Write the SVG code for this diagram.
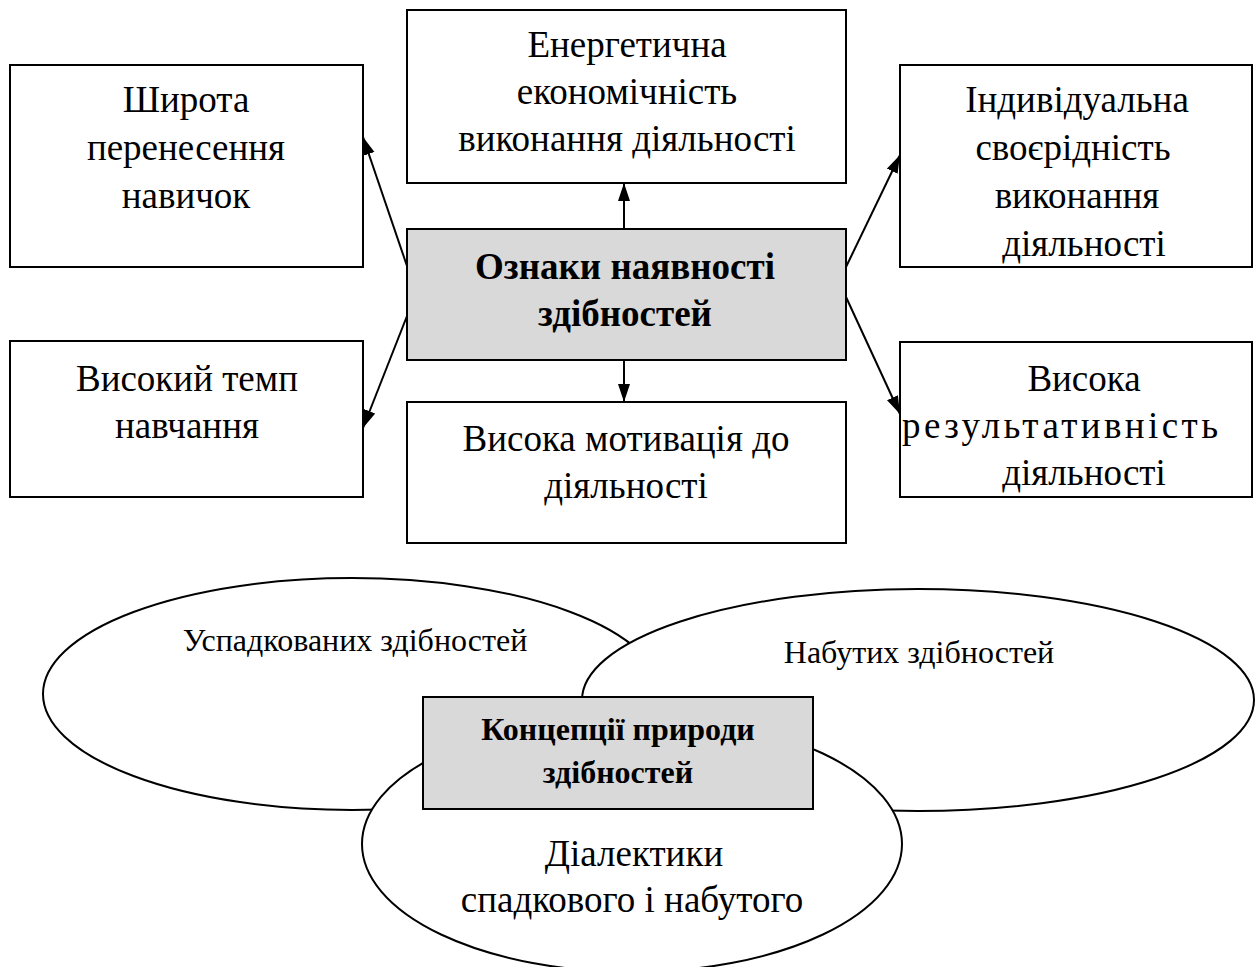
<svg xmlns="http://www.w3.org/2000/svg" width="1260" height="967" viewBox="0 0 1260 967">
<defs>
<marker id="ah" markerUnits="userSpaceOnUse" markerWidth="20" markerHeight="14" refX="18" refY="6" orient="auto">
<path d="M0,0 L18,6 L0,12 z" fill="#000"/>
</marker>
<style>
.box{fill:#fff;stroke:#000;stroke-width:2}
.hub{fill:#d9d9d9;stroke:#000;stroke-width:2}
.ell{fill:#fff;stroke:#000;stroke-width:2}
.t{font-family:"Liberation Serif","Times New Roman",serif;font-size:37px;text-anchor:middle;fill:#000}
.tb{font-family:"Liberation Serif","Times New Roman",serif;font-size:37px;font-weight:bold;text-anchor:middle;fill:#000}
.ts{font-family:"Liberation Serif","Times New Roman",serif;font-size:32px;text-anchor:middle;fill:#000}
.tsb{font-family:"Liberation Serif","Times New Roman",serif;font-size:32px;font-weight:bold;text-anchor:middle;fill:#000}
.c{stroke:#000;stroke-width:2;fill:none;marker-end:url(#ah)}
</style>
</defs>
<rect width="1260" height="967" fill="#fff"/>
<g id="n-shyrota"><rect class="box" x="10" y="65" width="353" height="202"/>
<text class="t" x="186" y="112">Широта</text><text class="t" x="186" y="160">перенесення</text><text class="t" x="186" y="208">навичок</text></g>
<g id="n-energ"><rect class="box" x="407" y="10" width="439" height="173"/>
<text class="t" x="627" y="57">Енергетична</text><text class="t" x="627" y="104">економічність</text><text class="t" x="627" y="151">виконання діяльності</text></g>
<g id="n-indyv"><rect class="box" x="900" y="65" width="352" height="202"/>
<text class="t" x="1077" y="112">Індивідуальна</text><text class="t" x="1073" y="160">своєрідність</text><text class="t" x="1077" y="208">виконання</text><text class="t" x="1084" y="256">діяльності</text></g>
<g id="n-hub"><rect class="hub" x="407" y="229" width="439" height="131"/>
<text class="tb" x="625" y="279">Ознаки наявності</text><text class="tb" x="625" y="326">здібностей</text></g>
<g id="n-temp"><rect class="box" x="10" y="341" width="353" height="156"/>
<text class="t" x="187" y="391">Високий темп</text><text class="t" x="187" y="438">навчання</text></g>
<g id="n-motyv"><rect class="box" x="407" y="402" width="439" height="141"/>
<text class="t" x="626" y="451">Висока мотивація до</text><text class="t" x="626" y="498">діяльності</text></g>
<g id="n-rezult"><rect class="box" x="900" y="342" width="352" height="155"/>
<text class="t" x="1084" y="391">Висока</text><text class="t" x="1060" y="438" textLength="316" lengthAdjust="spacing">результативність</text><text class="t" x="1084" y="485">діяльності</text></g>
<g id="connectors">
<line class="c" x1="407" y1="266" x2="363" y2="137"/>
<line class="c" x1="846" y1="267" x2="900" y2="155"/>
<line class="c" x1="407" y1="316" x2="363" y2="428"/>
<line class="c" x1="846" y1="297" x2="900" y2="414"/>
<line class="c" x1="624" y1="229" x2="624" y2="183"/>
<line class="c" x1="624" y1="360" x2="624" y2="402"/>
</g>
<g id="n-uspad"><ellipse class="ell" cx="352" cy="694" rx="309" ry="116"/>
<text class="ts" x="355" y="651">Успадкованих здібностей</text></g>
<g id="n-nabut"><ellipse class="ell" cx="918" cy="700" rx="336" ry="111"/>
<text class="ts" x="919" y="663">Набутих здібностей</text></g>
<g id="n-dialekt"><ellipse class="ell" cx="632" cy="844" rx="270" ry="128"/>
<text class="t" x="634" y="866">Діалектики</text><text class="t" x="632" y="912">спадкового і набутого</text></g>
<g id="n-konc"><rect class="hub" x="423" y="697" width="390" height="112"/>
<text class="tsb" x="618" y="740">Концепції природи</text><text class="tsb" x="618" y="783">здібностей</text></g>
</svg>
